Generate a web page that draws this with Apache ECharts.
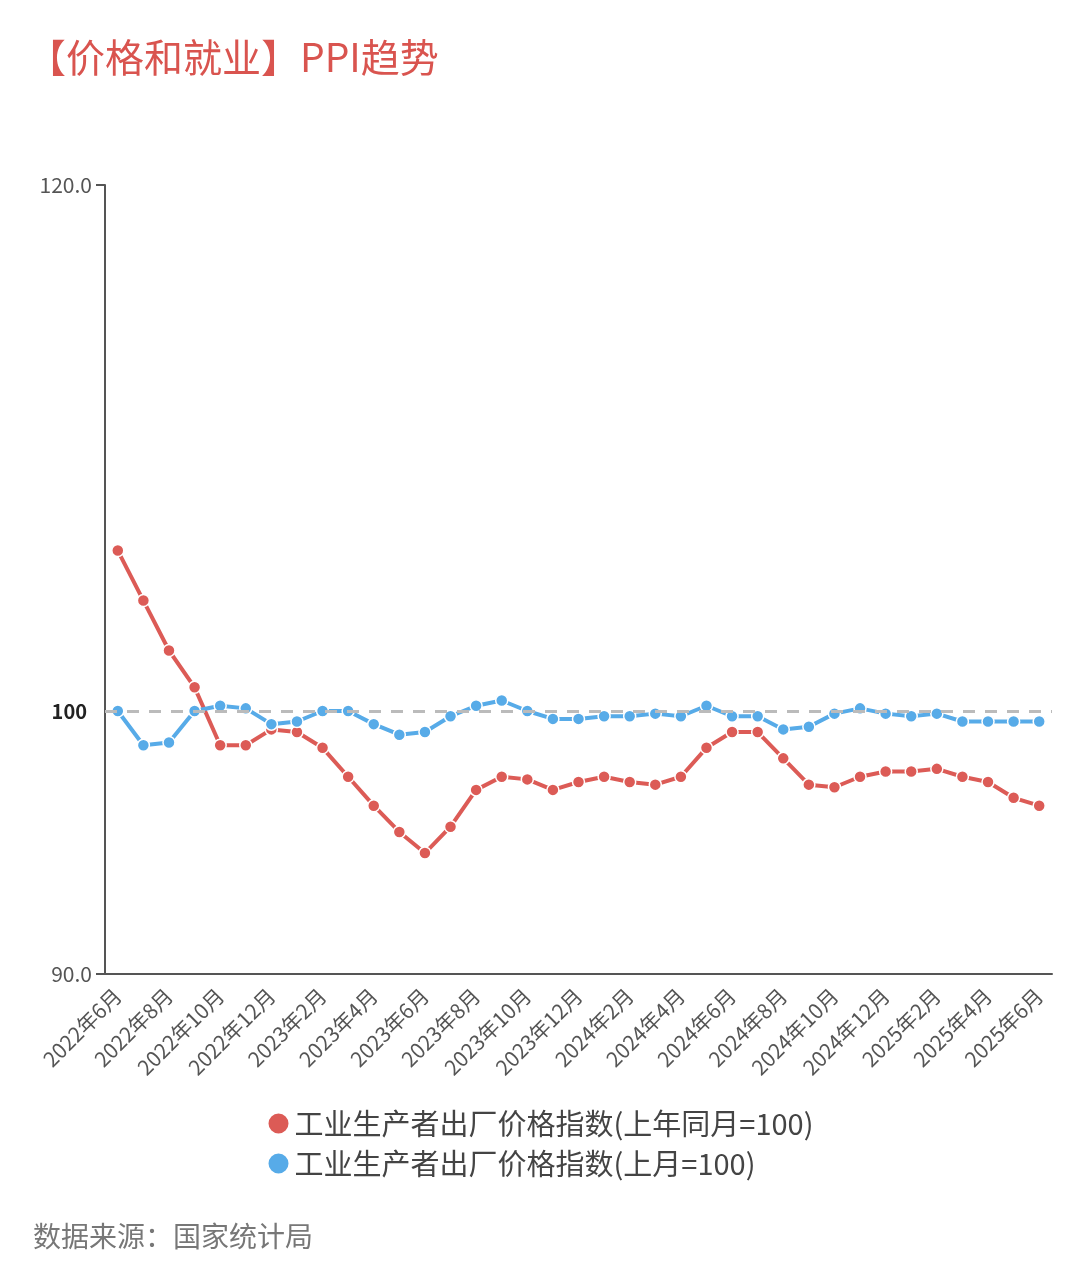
<!DOCTYPE html>
<html>
<head>
<meta charset="utf-8">
<script src="https://cdn.jsdelivr.net/npm/echarts@6/dist/echarts.min.js"></script>
<style>
  html, body { margin: 0; padding: 0; background: #fff; }
  #main { width: 1080px; height: 1261px; }
</style>
</head>
<body>
<div id="main"></div>
<script type="text/javascript">
    // 月份
    var months = [
        '2022年6月','2022年7月','2022年8月','2022年9月','2022年10月','2022年11月','2022年12月',
        '2023年1月','2023年2月','2023年3月','2023年4月','2023年5月','2023年6月','2023年7月',
        '2023年8月','2023年9月','2023年10月','2023年11月','2023年12月',
        '2024年1月','2024年2月','2024年3月','2024年4月','2024年5月','2024年6月','2024年7月',
        '2024年8月','2024年9月','2024年10月','2024年11月','2024年12月',
        '2025年1月','2025年2月','2025年3月','2025年4月','2025年5月','2025年6月'
    ];
    // 上年同月=100
    var ppiYoy = [
        106.1, 104.2, 102.3, 100.9, 98.7, 98.7, 99.3,
        99.2, 98.6, 97.5, 96.4, 95.4, 94.6, 95.6,
        97.0, 97.5, 97.4, 97.0, 97.3,
        97.5, 97.3, 97.2, 97.5, 98.6, 99.2, 99.2,
        98.2, 97.2, 97.1, 97.5, 97.7,
        97.7, 97.8, 97.5, 97.3, 96.7, 96.4
    ];
    // 上月=100
    var ppiMom = [
        100.0, 98.7, 98.8, 100.0, 100.2, 100.1, 99.5,
        99.6, 100.0, 100.0, 99.5, 99.1, 99.2, 99.8,
        100.2, 100.4, 100.0, 99.7, 99.7,
        99.8, 99.8, 99.9, 99.8, 100.2, 99.8, 99.8,
        99.3, 99.4, 99.9, 100.1, 99.9,
        99.8, 99.9, 99.6, 99.6, 99.6, 99.6
    ];
    var yMin = 90, yMax = 120, baseLine = 100;
    var nameYoy = '工业生产者出厂价格指数(上年同月=100)';
    var nameMom = '工业生产者出厂价格指数(上月=100)';

    var font = '"Noto Sans CJK SC", "Noto Sans", sans-serif';
    var myChart = echarts.init(document.getElementById('main'));

    var option = {
        backgroundColor: '#fff',
        textStyle: { fontFamily: font },
        title: [{
            text: '【价格和就业】PPI趋势',
            left: 22,
            top: 33,
            textStyle: { color: '#d9544f', fontSize: 39, fontWeight: 'normal', fontFamily: font }
        }, {
            text: '数据来源：国家统计局',
            left: 28,
            top: 1217,
            textStyle: { color: '#777', fontSize: 28, fontWeight: 'normal', fontFamily: font }
        }],
        legend: {
            orient: 'vertical',
            left: 'center',
            top: 1104,
            itemGap: 11,
            icon: 'circle',
            itemWidth: 22,
            itemHeight: 22,
            textStyle: { color: '#444', fontSize: 29, fontFamily: font },
            data: [nameYoy, nameMom]
        },
        grid: {
            left: 105,
            right: 28,
            top: 185,
            bottom: 287,
            containLabel: false
        },
        xAxis: {
            type: 'category',
            data: months,
            boundaryGap: true,
            axisLine: { lineStyle: { color: '#555', width: 2 } },
            axisTick: { alignWithLabel: true, interval: 1, length: 7, lineStyle: { color: '#555', width: 2 } },
            axisLabel: {
                interval: 1,
                rotate: 45,
                color: '#555',
                fontSize: 21,
                margin: 18,
                fontFamily: font
            },
            splitLine: { show: false }
        },
        yAxis: {
            type: 'value',
            min: yMin,
            max: yMax,
            interval: 30,
            axisLine: { show: true, lineStyle: { color: '#555', width: 2 } },
            axisTick: { show: true, length: 9, lineStyle: { color: '#555', width: 2 } },
            axisLabel: {
                color: '#555',
                fontSize: 21,
                margin: 13,
                fontFamily: font,
                formatter: function (v) { return v.toFixed(1); }
            },
            splitLine: { show: false }
        },
        series: [{
            name: nameYoy,
            type: 'line',
            data: ppiYoy,
            color: '#dc5b56',
            symbol: 'circle',
            symbolSize: 12,
            lineStyle: { width: 4, color: '#dc5b56' },
            itemStyle: { color: '#dc5b56', borderColor: '#fff', borderWidth: 1.5 },
            z: 3
        }, {
            name: nameMom,
            type: 'line',
            data: ppiMom,
            color: '#57abe8',
            symbol: 'circle',
            symbolSize: 12,
            lineStyle: { width: 4, color: '#57abe8' },
            itemStyle: { color: '#57abe8', borderColor: '#fff', borderWidth: 1.5 },
            z: 4,
            markLine: {
                silent: true,
                symbol: 'none',
                data: [{ yAxis: baseLine }],
                lineStyle: { type: [12, 10], color: '#bbb', width: 3 },
                label: {
                    show: true,
                    position: 'start',
                    distance: 18,
                    formatter: '100',
                    color: '#222',
                    fontSize: 20,
                    fontWeight: 'bold',
                    fontFamily: font
                }
            }
        }]
    };

    myChart.setOption(option);
</script>
</body>
</html>
